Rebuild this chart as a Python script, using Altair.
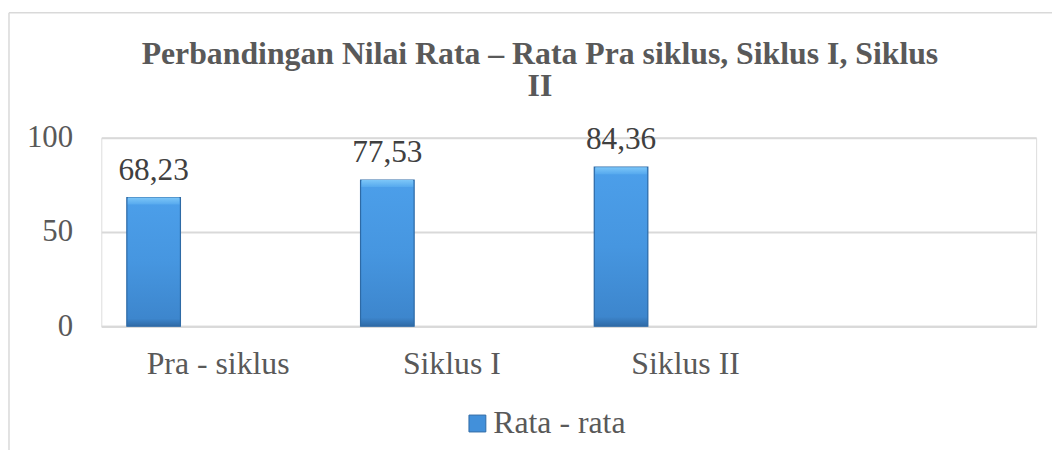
import altair as alt
import pandas as pd

categories = ["Pra - siklus", "Siklus I", "Siklus II"]
values = [68.23, 77.53, 84.36]
series_name = "Rata - rata"
x_domain = categories + [""]
y_ticks = [0, 50, 100]
title_lines = ["Perbandingan Nilai Rata \u2013 Rata Pra siklus, Siklus I, Siklus", "II"]

df = pd.DataFrame({"kategori": categories, "nilai": values, "seri": [series_name] * len(categories)})

FONT = "Liberation Serif"
GRAY = "#595959"
GRID = "#D9D9D9"

xenc = alt.X("kategori:N", scale=alt.Scale(domain=x_domain, paddingInner=0, paddingOuter=0),
             sort=x_domain,
             axis=alt.Axis(title=None, labelAngle=0, ticks=False, domainColor=GRID, domainWidth=2,
                           labelFont=FONT, labelFontSize=32, labelColor=GRAY, labelPadding=23,
                           labelOverlap=False))
yenc = alt.Y("nilai:Q", scale=alt.Scale(domain=[0, 100], nice=False),
             axis=alt.Axis(title=None, values=y_ticks, ticks=False, domain=False, grid=True,
                           gridColor=GRID, gridWidth=2, labelFont=FONT, labelFontSize=31,
                           labelColor=GRAY, labelPadding=29))

base = alt.Chart(df)

bars_legend = base.mark_bar(width=54, xOffset=-65).encode(
    x=xenc, y=yenc,
    color=alt.Color("seri:N", scale=alt.Scale(range=["#4290DA"]),
                    legend=alt.Legend(title=None, orient="none", legendX=363, legendY=272,
                                      symbolType="square", symbolSize=289, symbolStrokeColor="#2E6AA5",
                                      symbolStrokeWidth=1, labelFont=FONT, labelFontSize=32,
                                      labelColor=GRAY, labelOffset=0, padding=0))
)

grad = alt.Gradient(gradient="linear", x1=0, x2=0, y1=0, y2=1,
                    stops=[alt.GradientStop(color="#4C9FEA", offset=0),
                           alt.GradientStop(color="#4696E0", offset=0.5),
                           alt.GradientStop(color="#3D86CD", offset=0.94),
                           alt.GradientStop(color="#2F6AA6", offset=1)])

bars = base.mark_bar(width=54, xOffset=-65, fill=grad, stroke="#2E6AA5", strokeWidth=1.2).encode(
    x=alt.X("kategori:N", sort=x_domain), y="nilai:Q")

cap_grad = alt.Gradient(gradient="linear", x1=0, x2=0, y1=0, y2=1,
                        stops=[alt.GradientStop(color="#7CC6F8", offset=0),
                               alt.GradientStop(color="#56A9EE", offset=1)])
bar_caps = base.mark_bar(width=52, xOffset=-65, y2Offset=7, fill=cap_grad).encode(
    x=alt.X("kategori:N", sort=x_domain), y="nilai:Q", y2=alt.Y2("nilai"))

labels = base.transform_calculate(
    lbl="replace(format(datum.nilai, '.2f'), '.', ',')"
).mark_text(xOffset=-65, dy=-18, baseline="alphabetic", font=FONT, fontSize=31.5, color="#404040").encode(
    x=alt.X("kategori:N", sort=x_domain), y="nilai:Q", text="lbl:N")

border_df = pd.DataFrame({"b": [0]})
border_left = alt.Chart(border_df).mark_rule(color=GRID, strokeWidth=1.5).encode(
    x=alt.value(-93), y=alt.value(-126), y2=alt.value(330))
border_top = alt.Chart(border_df).mark_rule(color=GRID, strokeWidth=1.5).encode(
    x=alt.value(-93), x2=alt.value(960), y=alt.value(-126))

chart = alt.layer(border_left, border_top, bars_legend, bars, bar_caps, labels).properties(
    width=942, height=190,
    autosize=alt.AutoSizeParams(type="none"),
    padding={"left": 94, "top": 129, "right": 16, "bottom": 123},
    title=alt.TitleParams(text=title_lines, font=FONT, fontSize=32, fontWeight="bold", color=GRAY,
                          anchor="middle", frame="group", dx=-29, offset=-117, baseline="alphabetic",
                          lineHeight=33)
).configure_view(stroke=None).configure(background="white")

chart.save("out.html", embed_options={"renderer": "svg", "actions": False})
